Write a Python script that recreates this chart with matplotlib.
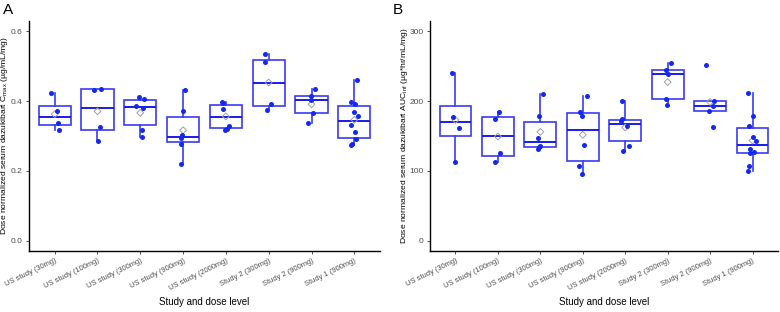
import numpy as np
import matplotlib.pyplot as plt

plt.rcParams['font.family'] = ['Liberation Sans', 'DejaVu Sans']

groups = ["US study (30mg)", "US study (100mg)", "US study (300mg)", "US study (900mg)",
          "US study (2000mg)", "Study 2 (300mg)", "Study 2 (900mg)", "Study 1 (900mg)"]

# panel A: dose normalized Cmax (ug/mL/mg)
cmax = [
    [0.423, 0.373, 0.338, 0.316],
    [0.433, 0.436, 0.327, 0.287],
    [0.413, 0.407, 0.387, 0.379, 0.317, 0.296],
    [0.433, 0.371, 0.302, 0.295, 0.278, 0.220],
    [0.399, 0.394, 0.378, 0.330, 0.320, 0.316],
    [0.536, 0.511, 0.391, 0.376],
    [0.434, 0.416, 0.402, 0.366, 0.337],
    [0.462, 0.399, 0.393, 0.368, 0.356, 0.331, 0.311, 0.290, 0.278, 0.275],
]
cmax_jit = [
    [-0.08, 0.06, 0.08, 0.11],
    [-0.09, 0.09, 0.05, 0.02],
    [-0.04, 0.08, -0.09, 0.06, 0.04, 0.03],
    [0.05, -0.01, -0.02, -0.05, -0.06, -0.06],
    [-0.09, -0.06, -0.07, 0.08, 0.02, -0.02],
    [-0.09, -0.09, 0.05, -0.03],
    [0.09, -0.02, -0.02, 0.04, -0.09],
    [0.07, -0.07, 0.01, 0.0, 0.09, -0.07, 0.02, 0.05, -0.05, -0.07],
]

# panel B: dose normalized AUCinf (ug*hr/mL/mg)
auc = [
    [240, 177, 162, 113],
    [185, 175, 125, 112],
    [210, 178, 147, 136, 134, 131],
    [207, 184, 179, 137, 107, 96],
    [200, 174, 171, 164, 136, 128],
    [255, 245, 239, 203, 195],
    [252, 200, 193, 186, 163],
    [211, 178, 165, 149, 143, 131, 127, 125, 107, 100],
]
auc_jit = [
    [-0.09, -0.05, 0.09, -0.01],
    [0.02, -0.06, 0.05, -0.08],
    [0.07, -0.04, -0.05, 0.0, -0.02, -0.05],
    [0.09, -0.07, -0.01, 0.02, -0.09, -0.01],
    [-0.07, -0.08, -0.09, 0.04, 0.08, -0.06],
    [0.07, -0.04, 0.01, -0.04, -0.02],
    [-0.09, 0.09, 0.08, -0.02, 0.06],
    [-0.11, 0.02, -0.09, 0.0, 0.08, -0.07, 0.03, -0.07, -0.09, -0.11],
]

box_col = '#3a3af5'
pt_col = '#1428f0'

fig = plt.figure(figsize=(7.8, 3.12), dpi=100)
W, H = 780, 312
axA = fig.add_axes([29 / W, 1 - 251 / H, 351 / W, 230 / H])
axB = fig.add_axes([430 / W, 1 - 251 / H, 348 / W, 230 / H])


def panel(ax, data, jit, ylim, yticks, yticklabels, ylabel, ylab_x):
    pos = np.arange(1, len(data) + 1)
    ax.boxplot(data, positions=pos, widths=0.75, showfliers=False, patch_artist=True,
               boxprops=dict(facecolor='white', edgecolor=box_col, linewidth=1.2),
               medianprops=dict(color='#1a1aee', linewidth=1.4),
               whiskerprops=dict(color=box_col, linewidth=1.2),
               capprops=dict(linewidth=0), zorder=2)
    for i, (vals, offs) in enumerate(zip(data, jit)):
        ax.scatter(pos[i] + np.array(offs), vals, s=13, color=pt_col, zorder=4, linewidths=0)
        ax.scatter([pos[i]], [np.mean(vals)], marker='D', s=12, facecolor='none',
                   edgecolor='#a0a0a0', linewidths=0.7, zorder=3)
    ax.set_xlim(0.4, len(data) + 0.6)
    ax.set_ylim(*ylim)
    ax.set_yticks(yticks)
    ax.set_yticklabels(yticklabels, fontsize=6, color='#4d4d4d')
    ax.set_xticks(pos)
    ax.set_xticklabels(groups, rotation=26, ha='right', rotation_mode='anchor',
                       fontsize=5.4, color='#4d4d4d')
    ax.tick_params(length=2.5, width=0.6, colors='#333333', labelcolor='#4d4d4d', pad=2)
    for s in ['top', 'right']:
        ax.spines[s].set_visible(False)
    for s in ['left', 'bottom']:
        ax.spines[s].set_linewidth(1.0)
        ax.spines[s].set_color('black')
    ax.set_xlabel('Study and dose level', fontsize=7, labelpad=4)
    ax.set_ylabel(ylabel, fontsize=6.1)
    ax.yaxis.set_label_coords(ylab_x, 0.5)


panel(axA, cmax, cmax_jit, (-0.03, 0.63), [0.0, 0.2, 0.4, 0.6], ['0.0', '0.2', '0.4', '0.6'],
      'Dose normalized serum dazukibart C$_{\\mathregular{max}}$ (µg/mL/mg)', -0.055)
panel(axB, auc, auc_jit, (-15, 315), [0, 100, 200, 300], ['0', '100', '200', '300'],
      'Dose normalized serum dazukibart AUC$_{\\mathregular{inf}}$ (µg*hr/mL/mg)', -0.058)

fig.text(3 / W, 1 - 10 / H, 'A', fontsize=11, va='center', ha='left')
fig.text(393 / W, 1 - 10 / H, 'B', fontsize=11, va='center', ha='left')

fig.savefig('out.png', dpi=100)
